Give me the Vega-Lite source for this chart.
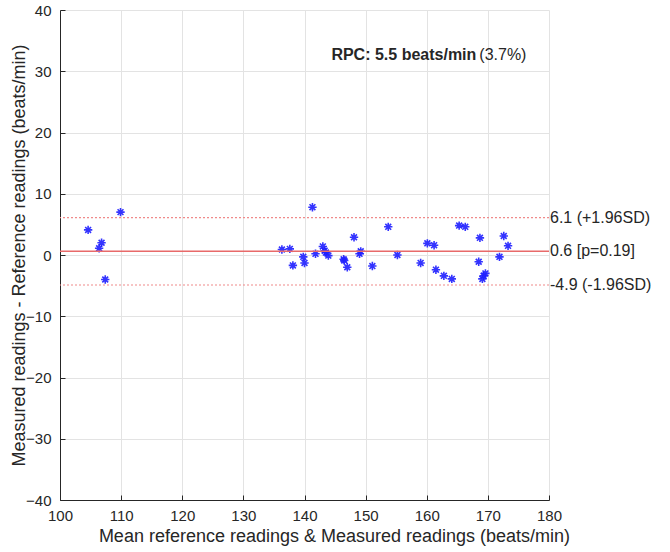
{
  "$schema": "https://vega.github.io/schema/vega-lite/v6.json",
  "width": 489,
  "height": 490,
  "autosize": {"type": "none"},
  "padding": {"left": 60, "top": 10, "right": 121, "bottom": 52},
  "background": "white",
  "config": {
    "view": {"stroke": null},
    "font": "Liberation Sans",
    "axis": {
      "domainColor": "#262626",
      "tickColor": "#262626",
      "labelColor": "#262626",
      "titleColor": "#262626",
      "labelFont": "Liberation Sans",
      "titleFont": "Liberation Sans",
      "labelFontSize": 15,
      "titleFontSize": 18,
      "titleFontWeight": "normal",
      "gridColor": "#e3e3e3",
      "gridWidth": 1,
      "tickSize": -5,
      "domainWidth": 1,
      "labelFlush": false
    }
  },
  "datasets": {
    "points": [
      {"mean": 104.6, "diff": 4.1},
      {"mean": 109.9, "diff": 7.0},
      {"mean": 106.8, "diff": 2.0},
      {"mean": 106.4, "diff": 1.1},
      {"mean": 107.4, "diff": -4.0},
      {"mean": 136.3, "diff": 0.9},
      {"mean": 137.6, "diff": 1.0},
      {"mean": 138.1, "diff": -1.7},
      {"mean": 139.8, "diff": -0.3},
      {"mean": 140.0, "diff": -1.3},
      {"mean": 141.3, "diff": 7.8},
      {"mean": 141.8, "diff": 0.2},
      {"mean": 143.0, "diff": 1.4},
      {"mean": 143.3, "diff": 0.7},
      {"mean": 143.5, "diff": 0.4},
      {"mean": 143.9, "diff": -0.1},
      {"mean": 146.4, "diff": -0.7},
      {"mean": 146.5, "diff": -0.9},
      {"mean": 147.0, "diff": -2.0},
      {"mean": 148.1, "diff": 2.9},
      {"mean": 149.0, "diff": 0.2},
      {"mean": 149.2, "diff": 0.6},
      {"mean": 151.1, "diff": -1.8},
      {"mean": 153.7, "diff": 4.6},
      {"mean": 155.2, "diff": 0.0},
      {"mean": 159.0, "diff": -1.3},
      {"mean": 160.1, "diff": 1.9},
      {"mean": 161.2, "diff": 1.6},
      {"mean": 161.5, "diff": -2.4},
      {"mean": 162.8, "diff": -3.4},
      {"mean": 164.1, "diff": -3.9},
      {"mean": 165.3, "diff": 4.8},
      {"mean": 166.3, "diff": 4.6},
      {"mean": 168.5, "diff": -1.1},
      {"mean": 168.7, "diff": 2.8},
      {"mean": 169.3, "diff": -3.4},
      {"mean": 169.1, "diff": -3.9},
      {"mean": 169.6, "diff": -3.0},
      {"mean": 171.9, "diff": -0.3},
      {"mean": 172.6, "diff": 3.1},
      {"mean": 173.3, "diff": 1.5}
    ],
    "lines": [
      {"kind": "upper", "value": 6.1, "label": "6.1 (+1.96SD)"},
      {"kind": "mean", "value": 0.6, "label": "0.6 [p=0.19]"},
      {"kind": "lower", "value": -4.9, "label": "-4.9 (-1.96SD)"}
    ],
    "notes": [
      {"x": 144.4, "y": 32.6, "text": "RPC: 5.5 beats/min", "weight": "bold"},
      {"x": 168.6, "y": 32.6, "text": "(3.7%)", "weight": "normal"}
    ]
  },
  "layer": [
    {
      "data": {"name": "points"},
      "mark": {
        "type": "point",
        "shape": "M-1,0L1,0M0,-1L0,1M-0.7,-0.7L0.7,0.7M-0.7,0.7L0.7,-0.7",
        "filled": false,
        "stroke": "#1f1fff",
        "strokeWidth": 1.6,
        "size": 70,
        "opacity": 0.9
      },
      "encoding": {
        "x": {
          "field": "mean", "type": "quantitative",
          "scale": {"domain": [100, 180], "nice": false, "zero": false},
          "axis": {
            "values": [100, 110, 120, 130, 140, 150, 160, 170, 180],
            "title": "Mean reference readings & Measured readings (beats/min)",
            "labelPadding": 13,
            "titlePadding": 4,
            "titleX": 274,
            "grid": true
          }
        },
        "y": {
          "field": "diff", "type": "quantitative",
          "scale": {"domain": [-40, 40], "nice": false},
          "axis": {
            "values": [-40, -30, -20, -10, 0, 10, 20, 30, 40],
            "title": "Measured readings - Reference readings  (beats/min)",
            "labelPadding": 14,
            "titlePadding": -3,
            "grid": true
          }
        }
      }
    },
    {
      "data": {"name": "lines"},
      "transform": [{"filter": "datum.kind === 'mean'"}],
      "mark": {"type": "rule", "stroke": "#e86a6a", "strokeWidth": 1.5},
      "encoding": {"y": {"field": "value", "type": "quantitative"}}
    },
    {
      "data": {"name": "lines"},
      "transform": [{"filter": "datum.kind !== 'mean'"}],
      "mark": {"type": "rule", "stroke": "#f08a8a", "strokeWidth": 1.2, "strokeDash": [2, 2]},
      "encoding": {"y": {"field": "value", "type": "quantitative"}}
    },
    {
      "data": {"name": "lines"},
      "mark": {"type": "text", "align": "left", "baseline": "middle", "dx": 1, "fontSize": 16, "color": "#262626", "font": "Liberation Sans"},
      "encoding": {
        "x": {"datum": 180, "type": "quantitative"},
        "y": {"field": "value", "type": "quantitative"},
        "text": {"field": "label"}
      }
    },
    {
      "data": {"name": "notes"},
      "transform": [{"filter": "datum.weight === 'bold'"}],
      "mark": {"type": "text", "align": "left", "baseline": "middle", "fontSize": 16, "fontWeight": "bold", "color": "#262626", "font": "Liberation Sans"},
      "encoding": {
        "x": {"field": "x", "type": "quantitative"},
        "y": {"field": "y", "type": "quantitative"},
        "text": {"field": "text"}
      }
    },
    {
      "data": {"name": "notes"},
      "transform": [{"filter": "datum.weight !== 'bold'"}],
      "mark": {"type": "text", "align": "left", "baseline": "middle", "fontSize": 16, "fontWeight": "normal", "color": "#262626", "font": "Liberation Sans"},
      "encoding": {
        "x": {"field": "x", "type": "quantitative"},
        "y": {"field": "y", "type": "quantitative"},
        "text": {"field": "text"}
      }
    }
  ]
}
